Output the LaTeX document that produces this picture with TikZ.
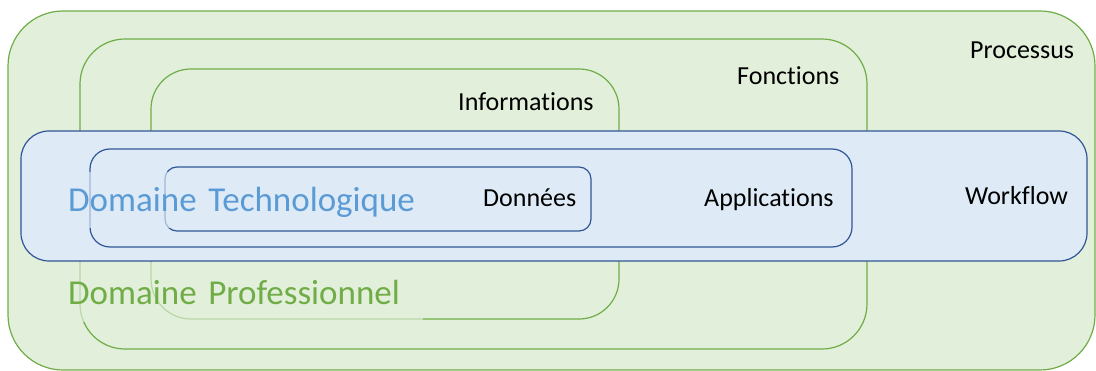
\documentclass[tikz,border=0pt]{standalone}
\usepackage{fontspec}
\setmainfont{Carlito}[Ligatures=NoCommon]
\definecolor{vertfond}{HTML}{E2EFDA}
\definecolor{vertbord}{HTML}{70AD47}
\definecolor{bleufond}{HTML}{DEEBF7}
\definecolor{bleubord}{HTML}{2F5597}
\definecolor{bleutexte}{HTML}{5B9BD5}
\tikzset{
  boite/.style={rectangle, inner sep=0pt, outer sep=0pt, line width=1.2pt},
  vert/.style={boite, draw=vertbord, fill=vertfond},
  bleu/.style={boite, draw=bleubord, fill=bleufond},
  etiq/.style={inner sep=0pt, anchor=base west, font=\fontsize{26}{30}\selectfont},
  domaine/.style={anchor=base west, inner xsep=8pt, inner ysep=8pt, align=left,
    fill opacity=0.65, text opacity=1, font=\fontsize{35}{40}\selectfont},
}
\begin{document}
\begin{tikzpicture}[x=1pt,y=-1pt]
        \useasboundingbox (0,0) rectangle (1096,371);
        % domaine professionnel
        \node [vert, rounded corners=55pt, minimum width=1087pt, minimum height=359pt] (processus) at (551.5,190.5) {};
        \node [vert, rounded corners=45pt, minimum width=787pt, minimum height=310pt] (fonctions) at (473.5,194) {};
        \node [vert, rounded corners=40pt, minimum width=468pt, minimum height=250pt] (informations) at (385,194) {};
        \node [domaine, fill=vertfond, text=vertbord, text width=347pt, text height=35pt, text depth=9pt] (professionnel) at (60,305) {\mbox{Domaine Professionnel}};
        % domaine technologique
        \node [bleu, rounded corners=28pt, minimum width=1066pt, minimum height=130pt] (workflow) at (554,196) {};
        \node [bleu, rounded corners=20pt, minimum width=762pt, minimum height=98pt] (applications) at (471,198) {};
        \node [bleu, rounded corners=12pt, minimum width=426pt, minimum height=64pt] (donnees) at (378,199) {};
        \node [domaine, fill=bleufond, text=bleutexte, text width=352pt, text height=32pt, text depth=8pt] (technologique) at (60,212) {\mbox{Domaine Technologique}};
        % titres des boites
        \node [etiq] (tprocessus) at (970,59) {Processus};
        \node [etiq] (tfonctions) at (737,85) {Fonctions};
        \node [etiq] (tinformations) at (458,111) {Informations};
        \node [etiq] (tworkflow) at (965,205) {Workflow};
        \node [etiq] (tapplications) at (704,207) {Applications};
        \node [etiq] (tdonnees) at (483,207) {Données};
      \end{tikzpicture}
\end{document}
